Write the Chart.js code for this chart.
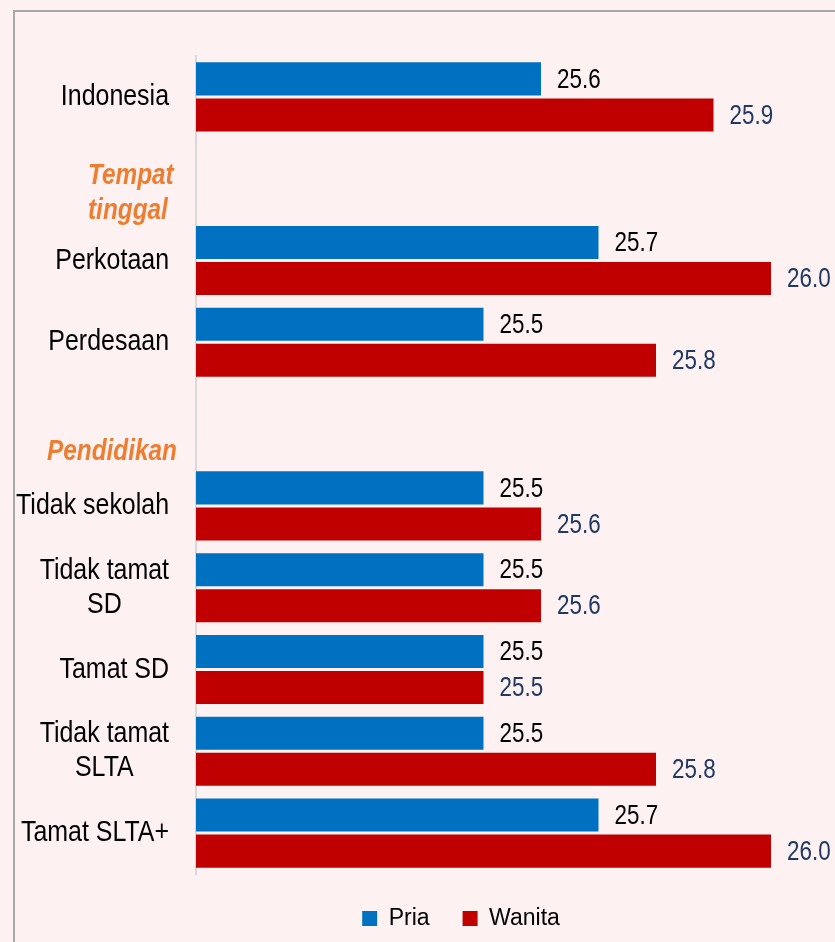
<!DOCTYPE html>
<html><head><meta charset="utf-8">
<script src="https://cdn.jsdelivr.net/npm/chart.js@4.4.1/dist/chart.umd.min.js"></script>
<style>
html,body{margin:0;padding:0;width:835px;height:942px;overflow:hidden;background:#fdf1f1;}
#frame{position:absolute;left:13px;top:10px;width:1000px;height:1000px;border-left:2px solid #a9a9a9;border-top:2px solid #a9a9a9;}
#c{position:absolute;left:0;top:0;}
</style></head><body>
<div id="frame"></div>
<canvas id="c" width="922" height="942"></canvas>
<script>
const categories = ["Indonesia", "Tempat\ntinggal", "Perkotaan", "Perdesaan", "Pendidikan", "Tidak sekolah", "Tidak tamat\nSD", "Tamat SD", "Tidak tamat\nSLTA", "Tamat SLTA+"];
const headerCategories = ["Tempat\ntinggal", "Pendidikan"];
const seriesNames = ["Pria", "Wanita"];
const pria   = [25.6, null, 25.7, 25.5, null, 25.5, 25.5, 25.5, 25.5, 25.7];
const wanita = [25.9, null, 26.0, 25.8, null, 25.6, 25.6, 25.5, 25.8, 26.0];
const xMin = 25.0, xMax = 26.2;

const FONT = '"Liberation Sans", Arial, sans-serif';
const HEADER_POS = {"Tempat\ntinggal": {x: 88, dy: 15}, "Pendidikan": {x: 47, dy: 28}};

function narrowText(ctx, text, x, y, align, sx) {
  const w = ctx.measureText(text).width * sx;
  let left = x;
  if (align === 'center') left = x - w / 2;
  else if (align === 'right') left = x - w;
  ctx.save();
  ctx.translate(left, y);
  ctx.scale(sx, 1);
  ctx.textAlign = 'left';
  ctx.fillText(text, 0, 0);
  ctx.restore();
}

const catLabels = {
  id: 'catLabels',
  afterDraw(chart) {
    const ctx = chart.ctx, y = chart.scales.y;
    ctx.save();
    ctx.textBaseline = 'middle';
    categories.forEach((cat, i) => {
      const yc = y.getPixelForValue(i);
      const lines = cat.split('\n');
      const n = lines.length;
      if (headerCategories.includes(cat)) {
        const p = HEADER_POS[cat];
        ctx.font = 'italic bold 29px ' + FONT;
        ctx.fillStyle = '#ed7d31';
        lines.forEach((ln, k) => narrowText(ctx, ln, p.x, yc + p.dy + (k - (n - 1) / 2) * 35, 'left', 0.84));
      } else {
        const sx = 0.86;
        ctx.font = '29px ' + FONT;
        ctx.fillStyle = '#000';
        const w = Math.max(...lines.map(l => ctx.measureText(l).width)) * sx;
        const cx = y.right - 27 - w / 2;
        lines.forEach((ln, k) => narrowText(ctx, ln, cx, yc + (k - (n - 1) / 2) * 34, 'center', sx));
      }
    });
    ctx.restore();
  }
};

const valueLabels = {
  id: 'valueLabels',
  afterDatasetsDraw(chart) {
    const ctx = chart.ctx;
    ctx.save();
    ctx.font = '28px ' + FONT;
    ctx.textBaseline = 'middle';
    chart.data.datasets.forEach((ds, d) => {
      const meta = chart.getDatasetMeta(d);
      ctx.fillStyle = d === 0 ? '#000000' : '#1f3864';
      meta.data.forEach((el, i) => {
        const v = ds.data[i];
        if (v === null || v === undefined) return;
        narrowText(ctx, v.toFixed(1), el.x + 16, el.y + 1, 'left', 0.8);
      });
    });
    ctx.restore();
  }
};

new Chart(document.getElementById('c'), {
  type: 'bar',
  data: {
    labels: categories,
    datasets: [
      {label: seriesNames[0], data: pria, backgroundColor: '#0070c0', borderWidth: 0,
       categoryPercentage: 0.881, barPercentage: 0.917},
      {label: seriesNames[1], data: wanita, backgroundColor: '#c00000', borderWidth: 0,
       categoryPercentage: 0.881, barPercentage: 0.917}
    ]
  },
  options: {
    indexAxis: 'y',
    responsive: false,
    animation: false,
    layout: {padding: {top: 56, left: 36, right: 36, bottom: 2}},
    scales: {
      x: {type: 'linear', min: xMin, max: xMax, display: false},
      y: {
        type: 'category',
        grid: {display: false},
        ticks: {display: false},
        border: {display: true, color: '#d9d9d9', width: 2},
        afterFit(scale) { scale.width = 160; }
      }
    },
    plugins: {
      legend: {
        position: 'bottom',
        labels: {
          boxWidth: 15, boxHeight: 15, padding: 33,
          color: '#000',
          font: {family: FONT, size: 23}
        }
      },
      tooltip: {enabled: false}
    }
  },
  plugins: [catLabels, valueLabels]
});
</script>
</body></html>
